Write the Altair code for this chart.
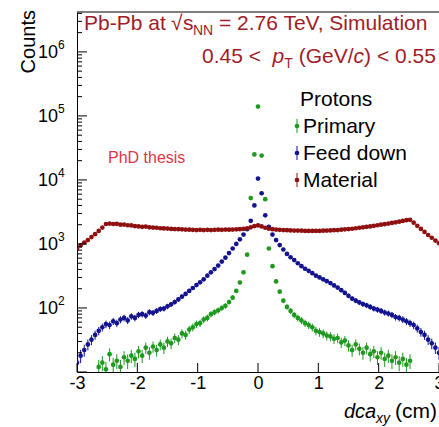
import altair as alt
import pandas as pd

FONT = "Liberation Sans"
W, H = 362, 360          # plot area
L, T = 77, 12            # plot origin on the page
TITLE_C = "#a01c28"
COLORS = {"Primary": "#1f991f", "Feed down": "#14148f", "Material": "#8f1010"}

# ---- data (bin centres every 0.06 cm from -3 to 3) ----
dca = [round(-3 + 0.06 * i, 2) for i in range(101)]

material = [
    850, 950, 1050, 1150, 1280, 1420, 1600, 1800, 2050, 2080,
    2050, 2060, 2000, 2010, 1960, 1950, 1900, 1880, 1850, 1870,
    1820, 1800, 1790, 1760, 1750, 1740, 1720, 1710, 1700, 1690,
    1680, 1670, 1660, 1650, 1660, 1650, 1660, 1650, 1660, 1670,
    1660, 1680, 1670, 1680, 1690, 1700, 1720, 1760, 1820, 1900,
    1950,
    1880, 1790, 1730, 1700, 1680, 1660, 1650, 1640, 1630, 1620,
    1620, 1610, 1600, 1600, 1600, 1600, 1600, 1610, 1620, 1630,
    1640, 1650, 1670, 1690, 1710, 1730, 1760, 1790, 1820, 1850,
    1880, 1920, 1960, 2000, 2040, 2080, 2130, 2180, 2230, 2290,
    2350, 2380, 2150, 1920, 1720, 1540, 1380, 1250, 1130, 1030,
]

feed_down = [
    14, 18, 22, 27, 32, 38, 44, 50, 56, 54,
    62, 58, 66, 70, 64, 74, 70, 78, 80, 76,
    86, 84, 90, 96, 98, 106, 114, 124, 136, 150,
    166, 185, 205, 228, 252, 280, 320, 360, 405, 460,
    530, 610, 720, 850, 1000, 1180, 1400, 1700, 2300, 4000,
    10500,
    6200, 2800, 1850, 1400, 1150, 960, 820, 700, 620, 560,
    500, 450, 410, 380, 350, 320, 300, 280, 262, 245,
    225, 208, 190, 172, 155, 140, 130, 122, 115, 110,
    104, 98, 94, 90, 85, 82, 78, 72, 70, 66,
    62, 58, 54, 48, 42, 38, 32, 28, 24, 20,
]

# primary: bins from -2.64 to 2.52
primary = [
    12, 14, 11, 19, 13, 15, 12, 17, 15, 18,
    16, 21, 18, 24, 20, 25, 22, 27, 24, 30,
    28, 34, 32, 40, 38, 46, 50, 56, 58, 66,
    70, 80, 86, 92, 100, 108, 124, 145, 185, 250,
    360, 680, 5200, 25000,
    140000,
    24000, 5000, 850, 450, 260, 180, 130, 104, 90, 78,
    70, 64, 58, 54, 50, 44, 42, 40, 37, 36,
    33, 34, 29, 31, 26, 22, 27, 23, 20, 24,
    19, 21, 17, 20, 16, 18, 15, 17, 14, 16,
    13, 15,
]

rows = []
for x, v in zip(dca[6:93], primary):
    rows.append({"dca": x, "counts": v, "series": "Primary"})
for x, v in zip(dca, feed_down):
    rows.append({"dca": x, "counts": v, "series": "Feed down"})
for x, v in zip(dca, material):
    rows.append({"dca": x, "counts": v, "series": "Material"})
df = pd.DataFrame(rows)

x_major = [-3, -2, -1, 0, 1, 2, 3]
y_major = [10, 100, 1000, 10000, 100000, 1000000]
y_minor = [m * 10 ** k for k in range(1, 7) for m in range(2, 10) if m * 10 ** k <= 4.2e6]
y_lab_vals = [100, 1000, 10000, 100000, 1000000]
y_lab_exp = ["2", "3", "4", "5", "6"]

xs = alt.Scale(domain=[-3, 3], nice=False, zero=False)
ys = alt.Scale(type="log", domain=[10, 4.2e6], nice=False)
cscale = alt.Scale(domain=list(COLORS.keys()), range=list(COLORS.values()))

x_axis = alt.Axis(values=x_major, labelExpr="'' + datum.value", ticks=False,
                  labelFont=FONT, labelFontSize=18, labelColor="black",
                  labelPadding=2, domainColor="black", domainWidth=1,
                  grid=False, title=None, labelFlush=False, labelOverlap=False)
y_axis = alt.Axis(labels=False, ticks=False, domainColor="black", domainWidth=1,
                  grid=False, title=None)

base = alt.Chart(df).transform_calculate(
    hi="datum.counts + sqrt(datum.counts)",
    lo="max(datum.counts - sqrt(datum.counts), 1)",
)

pts = base.mark_circle(size=22, opacity=1, clip=True).encode(
    x=alt.X("dca:Q", scale=xs, axis=x_axis),
    y=alt.Y("counts:Q", scale=ys, axis=y_axis),
    color=alt.Color("series:N", scale=cscale, legend=None),
)

err = base.mark_rule(clip=True, strokeWidth=1).encode(
    x=alt.X("dca:Q", scale=xs, axis=x_axis),
    y=alt.Y("lo:Q", scale=ys, axis=y_axis),
    y2="hi:Q",
    color=alt.Color("series:N", scale=cscale, legend=None),
)

dummy = pd.DataFrame({"a": [0]})

frame_top = alt.Chart(dummy).mark_rule(color="black", strokeWidth=1).encode(
    x=alt.value(0), x2=alt.value(W), y=alt.value(0))

ymaj = alt.Chart(pd.DataFrame({"v": y_major})).mark_rule(color="black").encode(
    y=alt.Y("v:Q", scale=ys, axis=y_axis), x=alt.value(0), x2=alt.value(10))
ymin = alt.Chart(pd.DataFrame({"v": y_minor})).mark_rule(color="black").encode(
    y=alt.Y("v:Q", scale=ys, axis=y_axis), x=alt.value(0), x2=alt.value(5))
xmaj = alt.Chart(pd.DataFrame({"v": x_major})).mark_rule(color="black").encode(
    x=alt.X("v:Q", scale=xs, axis=x_axis), y=alt.value(H), y2=alt.value(H - 9))

ylab_df = pd.DataFrame({"v": y_lab_vals, "e": y_lab_exp})
ylab10 = alt.Chart(ylab_df).mark_text(
    text="10", font=FONT, fontSize=18, align="right", baseline="middle", dy=1, color="black"
).encode(y=alt.Y("v:Q", scale=ys, axis=y_axis), x=alt.value(58 - L))
ylabexp = alt.Chart(ylab_df).mark_text(
    font=FONT, fontSize=12, align="left", baseline="middle", dy=-7, color="black"
).encode(y=alt.Y("v:Q", scale=ys, axis=y_axis), x=alt.value(58 - L), text="e:N")


def txt(s, x, y, size=21, color="black", style="normal", align="left",
        baseline="alphabetic", angle=0):
    return alt.Chart(dummy).mark_text(
        text=s, font=FONT, fontSize=size, color=color, fontStyle=style,
        align=align, baseline=baseline, angle=angle,
    ).encode(x=alt.value(x - L), y=alt.value(y - T))


texts = [
    # header line 1
    txt("Pb-Pb at", 84, 30, color=TITLE_C),
    txt("\u221a", 171, 30, color=TITLE_C),
    txt("s", 183, 30, color=TITLE_C),
    txt("NN", 193, 35, size=14, color=TITLE_C),
    txt("= 2.76 TeV, Simulation", 219, 30, color=TITLE_C),
    # header line 2
    txt("0.45  <", 202, 63, color=TITLE_C),
    txt("p", 272.6, 63, color=TITLE_C, style="italic"),
    txt("T", 284.3, 68, size=14, color=TITLE_C),
    txt("(GeV/", 298.7, 63, color=TITLE_C),
    txt("c", 353.6, 63, color=TITLE_C, style="italic"),
    txt(") < 0.55", 364.1, 63, color=TITLE_C),
    # legend
    txt("Protons", 300, 106),
    txt("Primary", 303, 133),
    txt("Feed down", 303, 160),
    txt("Material", 303, 187),
    # watermark
    txt("PhD thesis", 108, 163, size=16, color="#e03545"),
    # axis titles
    txt("dca", 344, 418, size=20, style="italic"),
    txt("xy", 376, 423, size=14, style="italic"),
    txt("(cm)", 395, 418),
    txt("Counts", 29, 10, size=20, align="right", baseline="middle", angle=270),
]

leg = []
for name, yc in [("Primary", 126), ("Feed down", 153), ("Material", 180)]:
    leg.append(alt.Chart(dummy).mark_rule(color=COLORS[name], strokeWidth=1).encode(
        x=alt.value(297 - L), y=alt.value(yc - 7 - T), y2=alt.value(yc + 7 - T)))
    leg.append(alt.Chart(dummy).mark_circle(color=COLORS[name], size=22, opacity=1).encode(
        x=alt.value(297 - L), y=alt.value(yc - T)))

chart = alt.layer(
    pts, err, frame_top, ymaj, ymin, xmaj, ylab10, ylabexp, *leg, *texts
).properties(
    width=W, height=H,
    padding={"left": L, "top": T, "right": 439 - L - W, "bottom": 427 - T - H},
    autosize=alt.AutoSizeParams(type="none"),
).configure_view(stroke=None)

chart.save("out.html", embed_options={"renderer": "svg", "actions": False})
